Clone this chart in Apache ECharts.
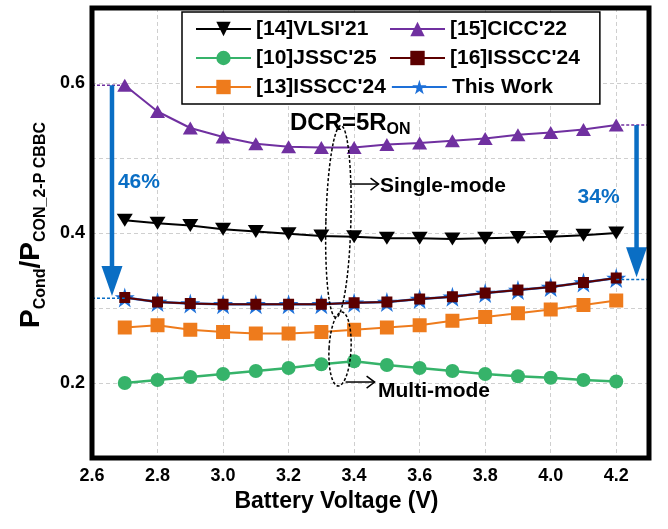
<!DOCTYPE html>
<html>
<head>
<meta charset="utf-8">
<script src="https://cdn.jsdelivr.net/npm/echarts@6/dist/echarts.min.js"></script>
<style>
  html, body { margin: 0; padding: 0; background: #fff; }
  #chart { width: 668px; height: 529px; }
</style>
</head>
<body>
<div id="chart"></div>
<script>
// Battery voltage sweep (V)
const voltages = [2.7, 2.8, 2.9, 3.0, 3.1, 3.2, 3.3, 3.4, 3.5, 3.6, 3.7, 3.8, 3.9, 4.0, 4.1, 4.2];

// Normalised conduction loss for each design
const vlsi21   = [0.417, 0.413, 0.410, 0.405, 0.402, 0.399, 0.396, 0.395, 0.393, 0.393, 0.392, 0.393, 0.394, 0.395, 0.397, 0.400];
const cicc22   = [0.597, 0.562, 0.540, 0.528, 0.519, 0.515, 0.514, 0.514, 0.518, 0.520, 0.523, 0.526, 0.531, 0.534, 0.538, 0.544];
const jssc25   = [0.200, 0.204, 0.208, 0.212, 0.216, 0.220, 0.225, 0.229, 0.224, 0.220, 0.216, 0.212, 0.209, 0.207, 0.204, 0.202];
const isscc24a = [0.314, 0.308, 0.306, 0.305, 0.305, 0.305, 0.305, 0.307, 0.308, 0.312, 0.315, 0.320, 0.324, 0.328, 0.334, 0.340];
const isscc24b = [0.274, 0.277, 0.271, 0.268, 0.266, 0.266, 0.268, 0.271, 0.274, 0.277, 0.283, 0.288, 0.293, 0.298, 0.304, 0.310];
const thisWork = [0.314, 0.308, 0.306, 0.305, 0.305, 0.305, 0.305, 0.307, 0.308, 0.312, 0.315, 0.320, 0.324, 0.328, 0.334, 0.340];

// Axis ticks
const xTicks = [2.6, 2.8, 3.0, 3.2, 3.4, 3.6, 3.8, 4.0, 4.2];
const yTicks = [0.2, 0.4, 0.6];

const FONT = "'Liberation Sans', Arial, sans-serif";
const STAR = 'path://M50,0 L61,35 L98,35 L68,57 L79,91 L50,70 L21,91 L32,57 L2,35 L39,35 Z';

function pairs(vals) { return voltages.map((v, i) => [v, vals[i]]); }
function hasTick(list, v) { return list.some(t => Math.abs(t - v) < 1e-6); }

const chart = echarts.init(document.getElementById('chart'), null, { renderer: 'canvas' });

function lineSeries(name, vals, color, symbol, size, width, z, rot) {
  return {
    name: name, type: 'line', data: pairs(vals),
    symbol: symbol, symbolSize: size, symbolRotate: rot || 0, z: z || 2,
    lineStyle: { color: color, width: width },
    itemStyle: { color: color },
    emphasis: { disabled: true },
    animation: false
  };
}

chart.setOption({
  animation: false,
  backgroundColor: '#fff',
  textStyle: { fontFamily: FONT },
  grid: { left: 92, right: 19, top: 8, bottom: 71 },
  legend: {
    left: 182, top: 12, width: 390,
    padding: [5, 20, 5, 13],
    itemGap: 5, itemWidth: 55, itemHeight: 18,
    backgroundColor: '#fff', borderColor: '#000', borderWidth: 1.5,
    data: ["[14]VLSI'21", "[15]CICC'22", "[10]JSSC'25", "[16]ISSCC'24", "[13]ISSCC'24", 'This Work'],
    textStyle: { fontFamily: FONT, fontSize: 21, fontWeight: 'bold', color: '#000', width: 128, lineHeight: 24 }
  },
  xAxis: {
    type: 'value', min: 2.6, max: 4.3, interval: 0.2,
    name: 'Battery Voltage (V)', nameLocation: 'middle', nameGap: 31,
    nameTextStyle: { fontFamily: FONT, fontSize: 23, fontWeight: 'bold', color: '#000', padding: [0, 68, 0, 0] },
    axisLine: { show: false }, axisTick: { show: false },
    axisLabel: {
      margin: 9, fontFamily: FONT, fontSize: 18, fontWeight: 'bold', color: '#000',
      formatter: v => hasTick(xTicks, v) ? v.toFixed(1) : ''
    },
    splitLine: { show: true, lineStyle: { color: '#cfcfcf', type: [4, 3], width: 1 } }
  },
  yAxis: {
    type: 'value', min: 0.1, max: 0.7, interval: 0.1,
    name: '{p|P}{s|Cond}{p|/P}{s|CON_2-P CBBC}',
    nameLocation: 'middle', nameRotate: 90, nameGap: 47,
    nameTextStyle: {
      padding: [0, 0, 0, 16],
      rich: {
        p: { fontFamily: FONT, fontSize: 28, fontWeight: 'bold', color: '#000', verticalAlign: 'bottom' },
        s: { fontFamily: FONT, fontSize: 16, fontWeight: 'bold', color: '#000', verticalAlign: 'bottom', padding: [0, 0, -4, 0] }
      }
    },
    axisLine: { show: false }, axisTick: { show: false },
    axisLabel: {
      margin: 7, fontFamily: FONT, fontSize: 18, fontWeight: 'bold', color: '#000',
      formatter: v => hasTick(yTicks, v) ? v.toFixed(1) : ''
    },
    splitLine: { show: true, lineStyle: { color: '#cfcfcf', type: [4, 3], width: 1 } }
  },
  series: [
    lineSeries("[14]VLSI'21", vlsi21, '#000000', 'triangle', [16, 13], 2, 3, 180),
    lineSeries("[15]CICC'22", cicc22, '#7030A0', 'triangle', [15, 13], 2, 3),
    lineSeries("[10]JSSC'25", jssc25, '#36B36A', 'circle', 14, 2.5, 3),
    lineSeries("[13]ISSCC'24", isscc24b, '#EE7B1C', 'rect', 14, 2, 3),
    lineSeries('This Work', thisWork, '#1E70D8', STAR, 20, 2.5, 3),
    lineSeries("[16]ISSCC'24", isscc24a, '#5C0000', 'rect', 11, 2, 4)
  ]
});

// ---- frame and annotations, anchored in data coordinates ----
function px(x, y) { return chart.convertToPixel({ gridIndex: 0 }, [x, y]); }

const BLUE = '#0A6EC4';

function frame() {
  const a = px(2.6, 0.7), b = px(4.3, 0.1);
  return { type: 'rect', z: 30, silent: true, shape: { x: a[0], y: a[1], width: b[0] - a[0], height: b[1] - a[1] }, style: { fill: null, stroke: '#000', lineWidth: 5 } };
}

function downArrow(x, yTop, yTip) {
  const a = px(x, yTop), b = px(x, yTip);
  const hh = 30, hw = 21;
  return [
    { type: 'line', z: 20, shape: { x1: a[0], y1: a[1], x2: b[0], y2: b[1] - hh + 2 }, style: { stroke: BLUE, lineWidth: 4.5 } },
    { type: 'polygon', z: 20, shape: { points: [[b[0] - hw / 2, b[1] - hh], [b[0] + hw / 2, b[1] - hh], [b[0], b[1]]] }, style: { fill: BLUE } }
  ];
}

function dotted(x1, x2, y, color) {
  const a = px(x1, y), b = px(x2, y);
  return { type: 'line', z: 20, shape: { x1: a[0], y1: a[1], x2: b[0], y2: b[1] }, style: { stroke: color, lineWidth: 1.5, lineDash: [3, 2] } };
}

function pointer(x, y, len) {
  const p = px(x, y);
  return [
    { type: 'line', z: 20, shape: { x1: p[0], y1: p[1], x2: p[0] + len, y2: p[1] }, style: { stroke: '#000', lineWidth: 1.5 } },
    { type: 'polyline', z: 20, shape: { points: [[p[0] + len - 8, p[1] - 6], [p[0] + len, p[1]], [p[0] + len - 8, p[1] + 6]] }, style: { stroke: '#000', lineWidth: 1.5, fill: null } }
  ];
}

function ellipse(x, y, rx, ry, rot) {
  const c = px(x, y);
  return { type: 'ellipse', z: 20, x: c[0], y: c[1], rotation: rot, shape: { cx: 0, cy: 0, rx: rx, ry: ry }, style: { fill: null, stroke: '#000', lineWidth: 1.5, lineDash: [3, 2] } };
}

function label(x, y, text, size, color) {
  const p = px(x, y);
  return { type: 'text', z: 21, x: p[0], y: p[1], style: { text: text, fontFamily: FONT, fontSize: size, fontWeight: 'bold', fill: color, align: 'left', verticalAlign: 'middle' } };
}

const dcr = px(3.204, 0.5467);

const g = [].concat(
  [frame()],
  dotted(2.6, 2.7, cicc22[0], '#7030A0'),
  dotted(2.6, 2.7, 0.313, BLUE),
  dotted(4.2, 4.3, cicc22[15], '#7030A0'),
  dotted(4.2, 4.3, 0.338, BLUE),
  downArrow(2.661, cicc22[0], 0.316),
  downArrow(4.262, cicc22[15], 0.341),
  [label(2.679, 0.468, '46%', 21, BLUE), label(4.082, 0.448, '34%', 21, BLUE)],
  [ellipse(3.352, 0.4153, 12.5, 96, -0.026), ellipse(3.357, 0.2453, 11, 37, -0.05)],
  pointer(3.386, 0.4653, 29),
  pointer(3.374, 0.2013, 29),
  [label(3.479, 0.4627, 'Single-mode', 21, '#000'), label(3.473, 0.1893, 'Multi-mode', 21, '#000')],
  [{
    type: 'text', z: 21, x: dcr[0], y: dcr[1],
    style: {
      text: '{a|DCR=5R}{b|ON}', align: 'left', verticalAlign: 'middle',
      rich: {
        a: { fontFamily: FONT, fontSize: 24, fontWeight: 'bold', fill: '#000', verticalAlign: 'bottom' },
        b: { fontFamily: FONT, fontSize: 16, fontWeight: 'bold', fill: '#000', verticalAlign: 'bottom', padding: [0, 0, -3, 0] }
      }
    }
  }]
);

chart.setOption({ graphic: g });
</script>
</body>
</html>
